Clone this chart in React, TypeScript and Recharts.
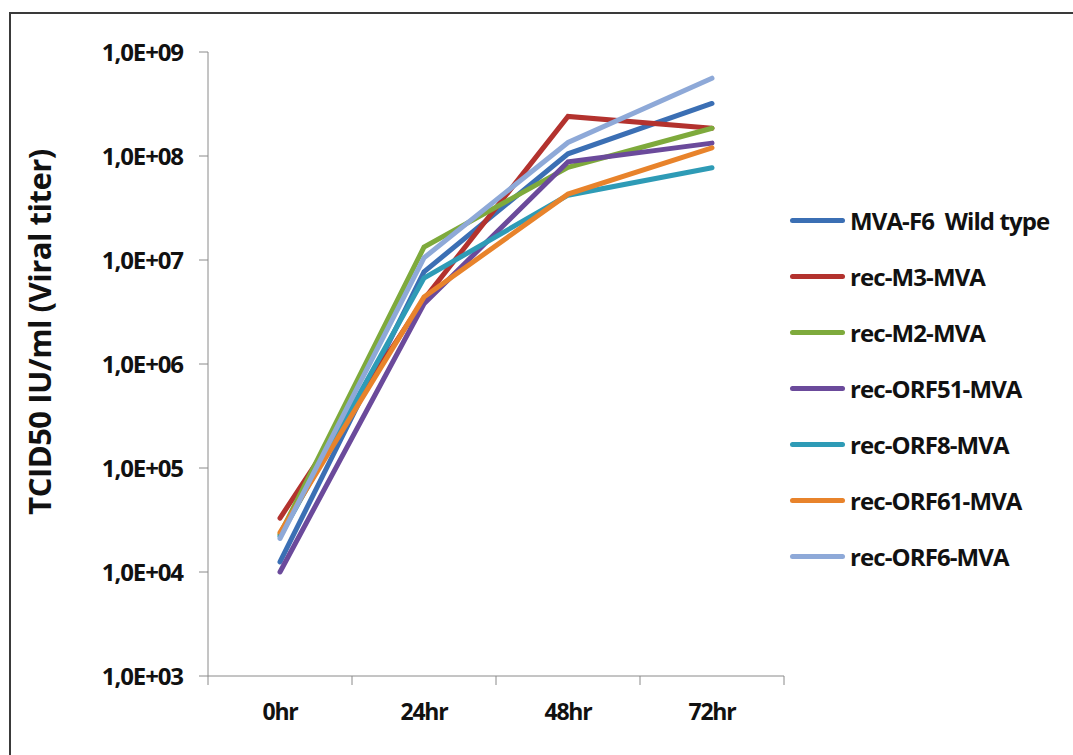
import { LineChart, Line, XAxis, YAxis, Legend } from "recharts";

const hours = ["0hr", "24hr", "48hr", "72hr"];

const wildType = [12500, 7.7e6, 1.05e8, 3.2e8];
const recM3 = [33000, 4.2e6, 2.4e8, 1.85e8];
const recM2 = [23000, 1.33e7, 7.8e7, 1.85e8];
const recORF51 = [10000, 3.8e6, 8.8e7, 1.33e8];
const recORF8 = [22000, 6.7e6, 4.2e7, 7.7e7];
const recORF61 = [24000, 4.4e6, 4.3e7, 1.2e8];
const recORF6 = [21000, 1.05e7, 1.35e8, 5.6e8];

const yTicks = [1e3, 1e4, 1e5, 1e6, 1e7, 1e8, 1e9];
const yTickLabels = ["1,0E+03", "1,0E+04", "1,0E+05", "1,0E+06", "1,0E+07", "1,0E+08", "1,0E+09"];
// band edges, half-way between hour indices
const edgeTicks = [-0.5, 0.5, 1.5, 2.5, 3.5];

const series = [
  { key: "wt", name: "MVA-F6  Wild type", values: wildType, color: "#3B6FB4" },
  { key: "m3", name: "rec-M3-MVA", values: recM3, color: "#B3322E" },
  { key: "m2", name: "rec-M2-MVA", values: recM2, color: "#7EAA3C" },
  { key: "orf51", name: "rec-ORF51-MVA", values: recORF51, color: "#6B4A9B" },
  { key: "orf8", name: "rec-ORF8-MVA", values: recORF8, color: "#2E9BB6" },
  { key: "orf61", name: "rec-ORF61-MVA", values: recORF61, color: "#E8832B" },
  { key: "orf6", name: "rec-ORF6-MVA", values: recORF6, color: "#8EA9D8" },
];

const data = hours.map((h, i) => {
  const row: Record<string, string | number> = { hour: h, idx: i };
  series.forEach((s) => (row[s.key] = s.values[i]));
  return row;
});

const font = "'Open Sans', Lato, sans-serif";

function LegendBox({ payload }: any) {
  const items = [...(payload || [])].sort(
    (a: any, b: any) =>
      series.findIndex((s) => s.name === a.value) - series.findIndex((s) => s.name === b.value)
  );
  return (
    <div style={{ width: 283, paddingLeft: 6, boxSizing: "border-box", fontFamily: font }}>
      {items.map((p: any) => (
        <div key={p.value} style={{ display: "flex", alignItems: "center", height: 56 }}>
          <div style={{ width: 55, height: 5, borderRadius: 3, background: p.color, marginRight: 5 }} />
          <span style={{ fontSize: 24, fontWeight: 700, color: "#111", whiteSpace: "pre", letterSpacing: -0.9 }}>
            {p.value}
          </span>
        </div>
      ))}
    </div>
  );
}

export default function App() {
  return (
    <div style={{ position: "absolute", left: 0, top: 0, width: 1073, height: 755, overflow: "hidden", background: "#fff" }}>
      <div
        style={{
          position: "absolute",
          left: 9,
          top: 12,
          width: 1100,
          height: 800,
          borderLeft: "2px solid #3a3a3a",
          borderTop: "2px solid #3a3a3a",
        }}
      />
      <LineChart
        width={1073}
        height={755}
        data={data}
        margin={{ top: 52, right: 6, left: 0, bottom: 0 }}
        style={{ position: "absolute", left: 0, top: 0 }}
      >
        {/* boundary ticks between the hour bands, like the Excel axis */}
        <XAxis
          xAxisId="a"
          type="number"
          dataKey="idx"
          domain={[-0.5, 3.5]}
          ticks={edgeTicks}
          tickFormatter={() => ""}
          height={1}
          stroke="#8a8a8a"
          tickSize={9}
          allowDataOverflow
        />
        <XAxis
          xAxisId="b"
          dataKey="hour"
          height={78}
          padding={{ left: 72, right: 72 }}
          axisLine={false}
          tickLine={false}
          tickSize={0}
          tickMargin={27}
          tick={{ fill: "#111", fontSize: 23, fontWeight: 700, fontFamily: font, letterSpacing: -1.2 }}
        />
        <YAxis
          type="number"
          scale="log"
          domain={[1e3, 1e9]}
          ticks={yTicks}
          allowDataOverflow
          width={208}
          stroke="#8a8a8a"
          tickSize={9}
          tickMargin={16}
          tickFormatter={(v: number) => yTickLabels[yTicks.indexOf(v)]}
          tick={{ fill: "#111", fontSize: 24, fontWeight: 700, fontFamily: font, letterSpacing: -1.1 }}
          label={{
            value: "TCID50 IU/ml (Viral titer)",
            angle: -90,
            position: "center",
            dx: -64,
            dy: -32,
            style: { fill: "#111", fontSize: 31, fontWeight: 700, fontFamily: font, textAnchor: "middle", letterSpacing: -0.5 },
          }}
        />
        <Legend
          layout="vertical"
          align="right"
          verticalAlign="top"
          wrapperStyle={{ top: 192 }}
          content={<LegendBox />}
        />
        {series.map((s) => (
          <Line
            key={s.key}
            xAxisId="b"
            dataKey={s.key}
            name={s.name}
            stroke={s.color}
            strokeWidth={5}
            strokeLinecap="round"
            dot={false}
            isAnimationActive={false}
          />
        ))}
      </LineChart>
    </div>
  );
}
